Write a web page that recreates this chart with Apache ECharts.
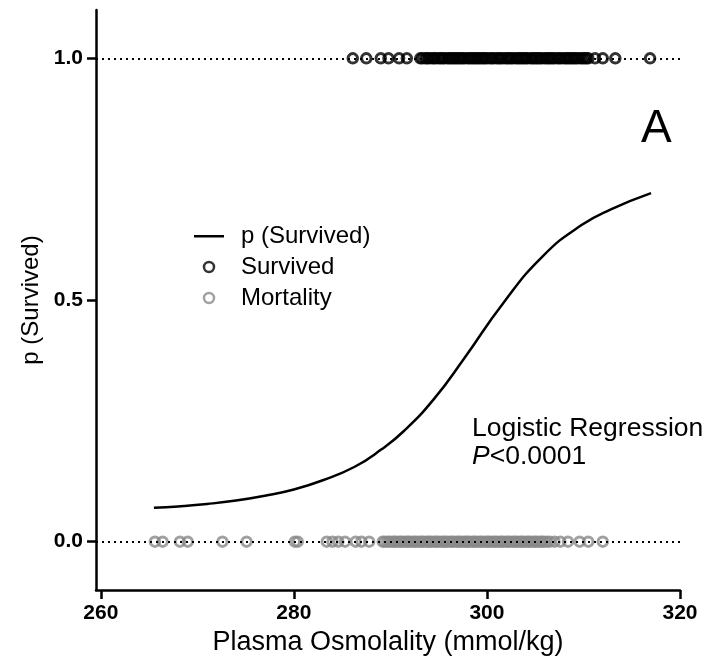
<!DOCTYPE html>
<html>
<head>
<meta charset="utf-8">
<script src="https://cdn.jsdelivr.net/npm/echarts@6/dist/echarts.min.js"></script>
<style>
html,body{margin:0;padding:0;background:#fff;}
#chart{width:713px;height:665px;}
</style>
</head>
<body>
<div id="chart"></div>
<script>
// ---- data ----
const xTicks = [260, 280, 300, 320];
const yTicks = [0, 0.5, 1];
const yTickLabels = {0: '0.0', 0.5: '0.5', 1: '1.0'};

const survivedX = [
  286.1, 287.5, 289.0, 289.8, 290.9, 291.7,
  293.1, 293.3, 293.6, 293.8, 294.0, 294.3, 294.5, 294.7, 295.0, 295.2, 295.4, 295.6, 295.9, 296.1, 296.3, 296.5,
  296.7, 296.9, 297.1, 297.3, 297.5, 297.7, 298.0, 298.2, 298.4, 298.6, 298.8, 299.0, 299.2, 299.4, 299.6, 299.8, 300.0,
  300.3, 300.5, 300.7, 301.0, 301.2, 301.4, 301.6, 301.9, 302.1, 302.3, 302.5, 302.7, 303.0, 303.2, 303.4, 303.6,
  303.8, 304.0, 304.2, 304.5, 304.7, 304.9, 305.1, 305.3, 305.5, 305.7, 306.0, 306.2, 306.4, 306.6, 306.8, 307.0, 307.3,
  307.5, 307.7, 308.0, 308.2, 308.4, 308.6, 308.8, 309.0, 309.2, 309.4, 309.7, 309.9, 310.1, 310.3, 310.5,
  311.2, 312.0, 313.3, 316.9
];

const mortalityX = [
  265.6, 266.4, 268.2, 269.0, 272.6, 275.1, 280.1, 280.4,
  283.4, 284.0, 284.6, 285.3, 286.4, 287.0, 287.8,
  289.2, 289.4, 289.7, 289.9, 290.2, 290.4, 290.6, 290.9, 291.1, 291.3, 291.6, 291.8, 292.0, 292.3, 292.5, 292.7, 293.0,
  293.2, 293.4, 293.7, 293.9, 294.1, 294.3, 294.6, 294.8, 295.0, 295.3, 295.5, 295.7, 295.9, 296.2, 296.4, 296.6, 296.9,
  297.1, 297.3, 297.6, 297.8, 298.0, 298.2, 298.5, 298.7, 298.9, 299.2, 299.4, 299.6, 299.9, 300.1, 300.3, 300.6, 300.8,
  301.0, 301.3, 301.5, 301.7, 302.0, 302.2, 302.4, 302.7, 302.9, 303.1, 303.4, 303.6, 303.8, 304.1, 304.3, 304.5, 304.8,
  305.0, 305.2, 305.5, 305.7, 305.9, 306.2, 306.5,
  307.0, 307.6, 308.4, 309.6, 310.5, 312.0
];

const curveX = [265.5, 268, 271, 274, 277, 280, 283, 286.3, 289, 291.4, 294.5, 297.6, 301.7, 305.8, 309.8, 312.9, 317];
const curveP = [0.070, 0.073, 0.078, 0.085, 0.095, 0.108, 0.127, 0.155, 0.190, 0.229, 0.295, 0.378, 0.494, 0.591, 0.655, 0.688, 0.721];

// ---- chart ----
const FONT = '"Liberation Sans", Arial, sans-serif';
const chart = echarts.init(document.getElementById('chart'), null, {renderer: 'canvas'});

const LINE_ICON = 'path://M0,0 L0.01,0 L0.01,0.01 Z M0,4 L30,4 L30,6.6 L0,6.6 Z M0,10 L0.01,10 L0.01,9.99 Z';

const option = {
  backgroundColor: '#fff',
  animation: false,
  grid: {left: 96, right: 33, top: 10, bottom: 75, containLabel: false},
  legend: {
    orient: 'vertical',
    left: 189, top: 219,
    itemWidth: 30, itemHeight: 10, itemGap: 7,
    textStyle: {fontFamily: FONT, fontSize: 24, color: '#000', padding: [0, 0, 0, 12]},
    data: [
      {name: 'p (Survived)', icon: LINE_ICON, itemStyle: {color: '#000', borderWidth: 0}},
      {name: 'Survived', icon: 'circle', itemStyle: {color: '#fff', borderColor: '#000', borderWidth: 2.5}},
      {name: 'Mortality', icon: 'circle', itemStyle: {color: '#fff', borderColor: '#8a8a8a', borderWidth: 2.5}}
    ]
  },
  xAxis: {
    type: 'value', min: 259.5, max: 320,
    name: 'Plasma Osmolality (mmol/kg)', nameLocation: 'middle', nameGap: 36,
    nameTextStyle: {fontFamily: FONT, fontSize: 27, color: '#000'},
    axisLine: {show: true, onZero: false, lineStyle: {color: '#000', width: 2.5}},
    axisTick: {show: true, length: 9, lineStyle: {color: '#000', width: 2.5}, customValues: xTicks},
    axisLabel: {customValues: xTicks, fontFamily: FONT, fontSize: 21, fontWeight: 'bold', color: '#000', margin: 13},
    splitLine: {show: false}
  },
  yAxis: {
    type: 'value', min: -0.1, max: 1.1,
    name: 'p (Survived)', nameLocation: 'middle', nameGap: 48,
    nameTextStyle: {fontFamily: FONT, fontSize: 24, color: '#000'},
    axisLine: {show: true, onZero: false, lineStyle: {color: '#000', width: 2.5}},
    axisTick: {show: true, length: 9, lineStyle: {color: '#000', width: 2.5}, customValues: yTicks},
    axisLabel: {customValues: yTicks, formatter: v => yTickLabels[v] !== undefined ? yTickLabels[v] : '',
      fontFamily: FONT, fontSize: 21, fontWeight: 'bold', color: '#000', margin: 13},
    splitLine: {show: false}
  },
  series: [
    {
      name: 'p (Survived)', type: 'line', smooth: true, symbol: 'none',
      lineStyle: {color: '#000', width: 2.5}, itemStyle: {color: '#000'},
      data: curveX.map((x, i) => [x, curveP[i]]), z: 3
    },
    {
      name: 'Survived', type: 'scatter', symbol: 'circle', symbolSize: 9.5,
      itemStyle: {color: 'rgba(255,255,255,0)', borderColor: '#000', borderWidth: 3},
      data: survivedX.map(x => [x, 1]), z: 4,
      markLine: {
        silent: true, symbol: 'none', label: {show: false},
        lineStyle: {color: '#000', width: 2, type: [2, 4]},
        data: [{yAxis: 1}]
      }
    },
    {
      name: 'Mortality', type: 'scatter', symbol: 'circle', symbolSize: 9.5,
      itemStyle: {color: 'rgba(255,255,255,0)', borderColor: '#8a8a8a', borderWidth: 3},
      data: mortalityX.map(x => [x, 0]), z: 4,
      markLine: {
        silent: true, symbol: 'none', label: {show: false},
        lineStyle: {color: '#000', width: 2, type: [2, 4]},
        data: [{yAxis: 0}]
      }
    }
  ],
  graphic: [
    {type: 'text', left: 641, top: 106, style: {text: 'A', fontFamily: FONT, fontSize: 46, fill: '#000'}},
    {type: 'text', left: 472, top: 415, style: {
      text: 'Logistic Regression\n{i|P}<0.0001', fontFamily: FONT, fontSize: 26.5, lineHeight: 28, fill: '#000',
      rich: {i: {fontStyle: 'italic', fontFamily: FONT, fontSize: 26.5, fill: '#000'}}
    }}
  ]
};
chart.setOption(option);
</script>
</body>
</html>
